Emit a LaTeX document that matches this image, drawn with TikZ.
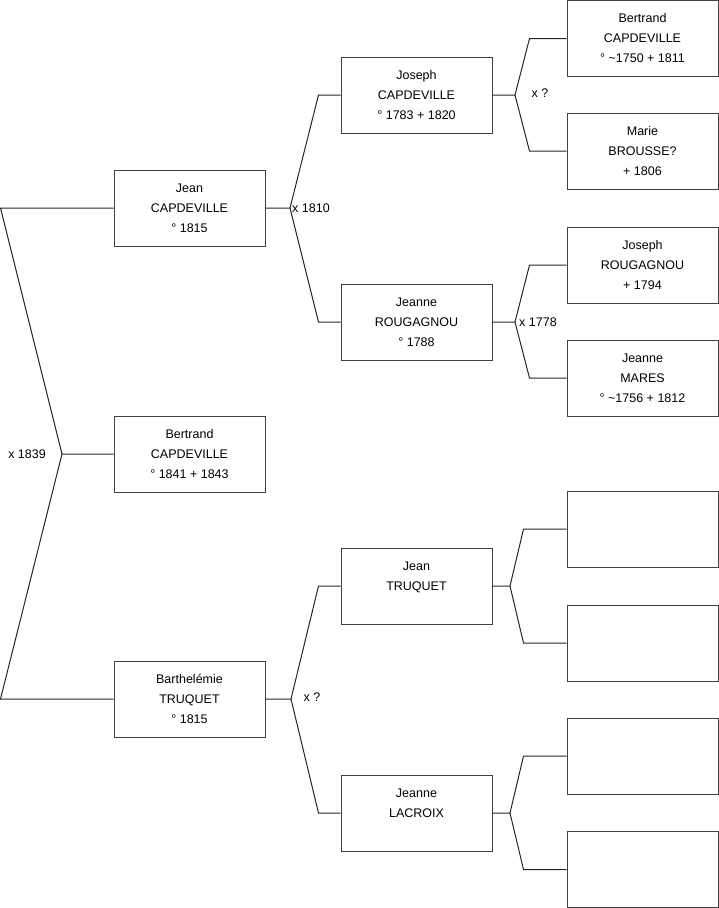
\documentclass[tikz,border=0pt]{standalone}
\usepackage{fontspec}
\setmainfont{Liberation Sans}
\begin{document}
\begin{tikzpicture}[x=1pt, y=-1pt,
  person/.style={draw=black!75, line width=1pt, minimum width=151pt, minimum height=76pt,
    inner sep=0pt, align=center, font=\fontsize{12.5}{20}\selectfont},
  link/.style={black!85, line width=1pt},
  wed/.style={inner sep=0pt, font=\fontsize{12.5}{15}\selectfont}]
\useasboundingbox (0,0) rectangle (719,908);
% generation 1
\node[person] (jean) at (189.5,208) {Jean\\CAPDEVILLE\\° 1815};
\node[person] (bertrand) at (189.5,454) {Bertrand\\CAPDEVILLE\\° 1841 + 1843};
\node[person] (barth) at (189.5,699) {Barthelémie\\TRUQUET\\° 1815};
% generation 2
\node[person] (joseph) at (416.5,95) {Joseph\\CAPDEVILLE\\° 1783 + 1820};
\node[person] (jeanneR) at (416.5,322) {Jeanne\\ROUGAGNOU\\° 1788};
\node[person] (jeanT) at (416.5,586) {Jean\\TRUQUET\\\mbox{}};
\node[person] (jeanneL) at (416.5,813) {Jeanne\\LACROIX\\\mbox{}};
% generation 3
\node[person] (bertrandC) at (642.5,38.5) {Bertrand\\CAPDEVILLE\\° \textasciitilde 1750 + 1811};
\node[person] (marie) at (642.5,151) {Marie\\BROUSSE?\\+ 1806};
\node[person] (josephR) at (642.5,265) {Joseph\\ROUGAGNOU\\+ 1794};
\node[person] (jeanneM) at (642.5,378) {Jeanne\\MARES\\° \textasciitilde 1756 + 1812};
\foreach \n/\y in {box5/529,box6/643,box7/756,box8/869.5}{
  \node[person] (\n) at (642.5,\y) {};
}
% marriage points
\coordinate (m0) at (62,454);
\coordinate (m1) at (290,208);
\coordinate (m2) at (291,699);
\coordinate (m3) at (515,95);
\coordinate (m4) at (515,322);
\coordinate (m5) at (510,586);
\coordinate (m6) at (510,813);
% parents of the first couple
\draw[link] (bertrand.west) -- (m0) -- ([xshift=-113pt]jean.west) -- (jean.west);
\draw[link] (m0) -- ([xshift=-113pt]barth.west) -- (barth.west);
% the other couples
\foreach \kid/\m/\dad/\mum/\gap in {jean/m1/joseph/jeanneR/22pt, barth/m2/jeanT/jeanneL/22pt,
    joseph/m3/bertrandC/marie/37pt, jeanneR/m4/josephR/jeanneM/37pt,
    jeanT/m5/box5/box6/43pt, jeanneL/m6/box7/box8/43pt}{
  \draw[link] (\kid.east) -- (\m) -- ([xshift=-\gap]\dad.west) -- (\dad.west);
  \draw[link] (\m) -- ([xshift=-\gap]\mum.west) -- (\mum.west);
}
% marriage labels
\node[wed, anchor=east] (w0) at ([xshift=-16pt]m0) {x 1839};
\node[wed, anchor=west] (w1) at ([xshift=2pt]m1) {x 1810};
\node[wed] (w2) at (312,697) {x ?};
\node[wed] (w3) at (540,93) {x ?};
\node[wed, anchor=west] (w4) at ([xshift=4pt]m4) {x 1778};
\end{tikzpicture}
\end{document}
